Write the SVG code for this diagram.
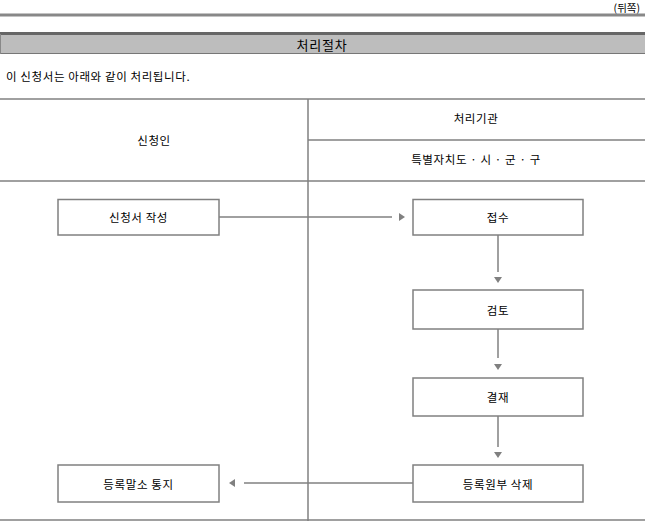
<svg xmlns="http://www.w3.org/2000/svg" width="645" height="521" viewBox="0 0 645 521">
<style>
text{font-family:"Noto Sans CJK KR","Liberation Sans",sans-serif;fill:#000;dominant-baseline:central}
.t{font-size:11.5px;letter-spacing:0.6px}
.c{text-anchor:middle}
.ln{stroke:#808080;stroke-width:1.5;fill:none}
.box{fill:#fff;stroke:#808080;stroke-width:1.5}
.ah{fill:#808080}
</style>
<defs>
<path id="ah" d="M-6,-4 L0,0 L-6,4 Z"/>
</defs>
<rect width="645" height="521" fill="#fff"/>
<g id="header">
<text x="640" y="7.5" text-anchor="end" style="font-size:10.5px">(뒤쪽)</text>
<rect x="0" y="13.5" width="645" height="3" fill="#888"/>
<rect x="0" y="34" width="645" height="20" fill="#bdbdbd"/>
<rect x="0" y="32" width="645" height="3" fill="#666"/>
<line x1="0" y1="53.5" x2="645" y2="53.5" stroke="#777" stroke-width="1"/>
<line x1="0.5" y1="34" x2="0.5" y2="54" stroke="#888" stroke-width="1"/>
<text x="322" y="44" class="c" style="font-size:13px;letter-spacing:0.8px">처리절차</text>
<text x="6" y="76" class="t">이 신청서는 아래와 같이 처리됩니다.</text>
</g>
<g id="table" class="ln">
<line x1="0" y1="99" x2="645" y2="99"/>
<line x1="308" y1="99" x2="308" y2="521"/>
<line x1="308" y1="140" x2="645" y2="140"/>
<line x1="0" y1="181" x2="645" y2="181"/>
<line x1="0" y1="520" x2="645" y2="520"/>
</g>
<g id="table-labels">
<text x="154" y="140" class="t c">신청인</text>
<text x="476" y="118" class="t c">처리기관</text>
<text x="476" y="159" class="t c">특별자치도 · 시 · 군 · 구</text>
</g>
<g id="connectors">
<line class="ln" x1="219" y1="217" x2="392" y2="217"/>
<use href="#ah" class="ah" transform="translate(405,217)"/>
<line class="ln" x1="498" y1="235" x2="498" y2="272"/>
<use href="#ah" class="ah" transform="translate(498,283) rotate(90)"/>
<line class="ln" x1="498" y1="329" x2="498" y2="358"/>
<use href="#ah" class="ah" transform="translate(498,370) rotate(90)"/>
<line class="ln" x1="498" y1="416" x2="498" y2="447"/>
<use href="#ah" class="ah" transform="translate(498,458) rotate(90)"/>
<line class="ln" x1="413" y1="483" x2="244" y2="483"/>
<use href="#ah" class="ah" transform="translate(229,483) rotate(180)"/>
</g>
<g id="n1"><rect class="box" x="58" y="199.5" width="161" height="35.5"/><text x="138.5" y="217" class="t c">신청서 작성</text></g>
<g id="n2"><rect class="box" x="413" y="199.5" width="170" height="35.5"/><text x="498" y="217" class="t c">접수</text></g>
<g id="n3"><rect class="box" x="413" y="290" width="170" height="39"/><text x="498" y="309.5" class="t c">검토</text></g>
<g id="n4"><rect class="box" x="413" y="378" width="170" height="38"/><text x="498" y="397" class="t c">결재</text></g>
<g id="n5"><rect class="box" x="413" y="465" width="170" height="37"/><text x="498" y="483.5" class="t c">등록원부 삭제</text></g>
<g id="n6"><rect class="box" x="58" y="465" width="161" height="37"/><text x="138.5" y="483.5" class="t c">등록말소 통지</text></g>
</svg>
